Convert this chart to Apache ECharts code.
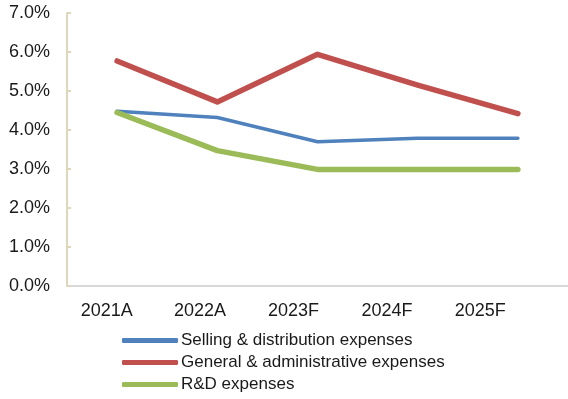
<!DOCTYPE html>
<html>
<head>
<meta charset="utf-8">
<script src="https://cdn.jsdelivr.net/npm/echarts@6/dist/echarts.min.js"></script>
<style>
  html, body { margin: 0; padding: 0; background: #fff; }
  #chart { width: 568px; height: 399px; }
</style>
</head>
<body>
<div id="chart"></div>
<script>
// Expense ratios (% of revenue) by year
var categories = ['2021A', '2022A', '2023F', '2024F', '2025F'];
var sellingDistribution = [4.48, 4.32, 3.70, 3.79, 3.79];
var generalAdmin = [5.77, 4.72, 5.94, 5.15, 4.42];
var researchDev = [4.45, 3.47, 2.99, 2.99, 2.99];
var seriesNames = ['Selling & distribution expenses', 'General & administrative expenses', 'R&D expenses'];

var FONT = '"Liberation Sans", Arial, sans-serif';
var chart = echarts.init(document.getElementById('chart'), null, { renderer: 'canvas' });

function lineSeries(name, data, color, width) {
  return {
    name: name,
    type: 'line',
    xAxisIndex: 0,
    yAxisIndex: 0,
    data: data,
    symbol: 'none',
    lineStyle: { color: color, width: width, cap: 'round', join: 'round' },
    itemStyle: { color: color },
    animation: false
  };
}

chart.setOption({
  animation: false,
  backgroundColor: '#ffffff',
  grid: [
    { left: 67, top: 13, width: 505, height: 273 },
    // category labels row
    { left: 60, top: 13, width: 467, height: 273 }
  ],
  xAxis: [
    {
      type: 'category', gridIndex: 0, data: categories, boundaryGap: true,
      axisLine: { lineStyle: { color: '#d9d9d9', width: 2 } },
      axisTick: { show: false },
      axisLabel: { show: false },
      splitLine: { show: false }
    },
    {
      type: 'category', gridIndex: 1, data: categories, boundaryGap: true,
      axisLine: { show: false },
      axisTick: { show: false },
      axisLabel: { color: '#1a1a1a', fontSize: 18, fontFamily: FONT, margin: 16, interval: 0 },
      splitLine: { show: false }
    }
  ],
  yAxis: [
    {
      type: 'value', gridIndex: 0, min: 0, max: 7, interval: 1,
      axisLine: { show: true, lineStyle: { color: '#ddd8bc', width: 2 } },
      axisTick: { show: true, inside: true, length: 4, lineStyle: { color: '#ddd8bc', width: 2 } },
      axisLabel: {
        color: '#1a1a1a', fontSize: 18, fontFamily: FONT, margin: 17,
        formatter: function (v) { return v.toFixed(1) + '%'; }
      },
      splitLine: { show: false }
    },
    { type: 'value', gridIndex: 1, show: false, min: 0, max: 7 }
  ],
  legend: {
    orient: 'vertical',
    left: 122,
    top: 332,
    height: 90,
    padding: 0,
    data: seriesNames,
    icon: 'roundRect',
    itemWidth: 56,
    itemHeight: 5,
    itemGap: 5,
    textStyle: { color: '#1a1a1a', fontSize: 17, fontFamily: FONT, lineHeight: 17, padding: [0, 0, 0, -2] }
  },
  series: [
    lineSeries(seriesNames[0], sellingDistribution, '#4f81bd', 3.5),
    lineSeries(seriesNames[1], generalAdmin, '#c0504d', 5.5),
    lineSeries(seriesNames[2], researchDev, '#9bbb59', 5.5)
  ]
});
</script>
</body>
</html>
